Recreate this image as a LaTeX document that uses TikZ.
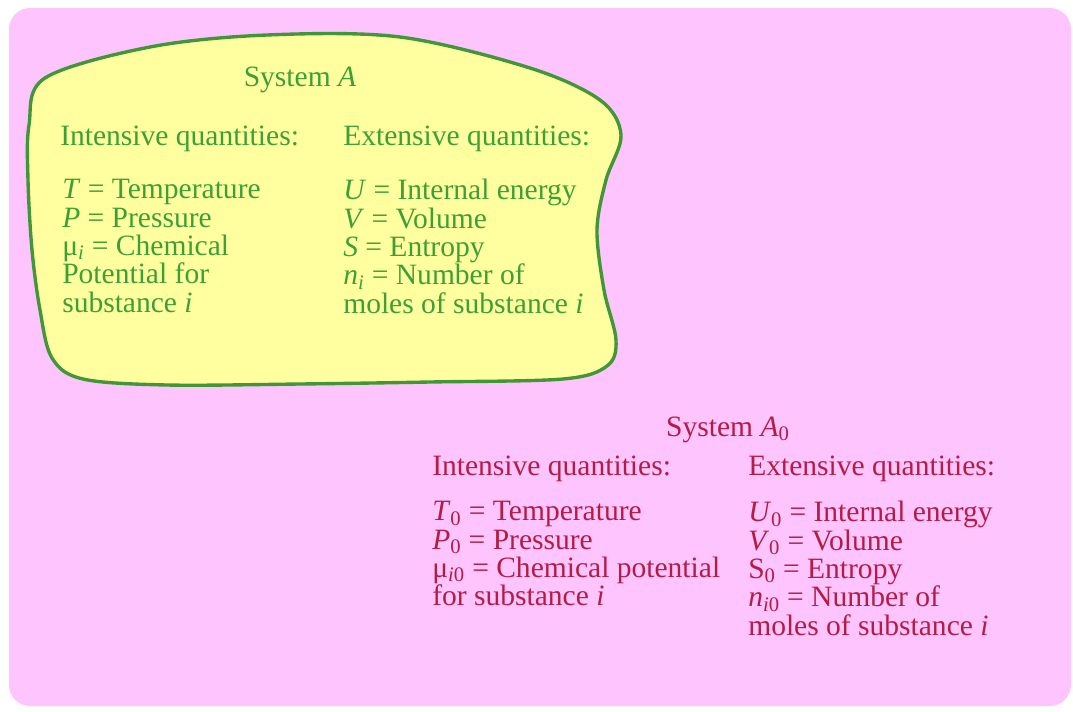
\documentclass[tikz,border=0pt]{standalone}
\usepackage{fontspec}
\setmainfont{Liberation Serif}
\usetikzlibrary{positioning}
\definecolor{bgpink}{RGB}{253,196,253}
\definecolor{blobfill}{RGB}{255,255,160}
\definecolor{blobedge}{RGB}{66,150,58}
\definecolor{txtgreen}{RGB}{62,160,52}
\definecolor{txtred}{RGB}{180,28,70}
\tikzset{
  greentxt/.style={text=txtgreen, inner sep=0pt, align=left,
    font=\fontsize{21}{20.2}\selectfont},
  redtxt/.style={text=txtred, inner sep=0pt, align=left,
    font=\fontsize{21}{20.2}\selectfont}
}

\begin{document}
\begin{tikzpicture}[x=0.025cm,y=-0.025cm]
  \useasboundingbox (0,0) rectangle (1073,711);
  % background panel
  \fill[bgpink, rounded corners=15] (9,8) rectangle (1071,706);
  % system A outline
  \draw[blobedge, fill=blobfill, line width=2.4pt]
    plot[smooth cycle, tension=0.55] coordinates {
      (45,78) (150,47) (267,35) (400,37) (530,68) (600,100) (621,135)
      (606,180) (597,230) (604,290) (616,340) (607,366) (563,379)
      (430,382) (300,384) (167,385) (83,379) (52,358) (40,310)
      (32,250) (28,180) (29,125)};
  % system A text
  \node[greentxt, anchor=base] (sysA) at (300,86) {System \textit{A}};
  \node[greentxt, anchor=base west] (intA) at (60,145) {Intensive quantities:};
  \node[greentxt, anchor=base west] (extA) at (343,145) {Extensive quantities:};
  \node[greentxt, anchor=north west] (intlistA) at (62,179)
    {\textit{T} = Temperature\\
     \textit{P} = Pressure\\
     μ\textsubscript{\textit{i}} = Chemical\\
     Potential for\\
     substance \textit{i}};
  \node[greentxt, anchor=north west] (extlistA) at (343,179)
    {\textit{U} = Internal energy\\
     \textit{V} = Volume\\
     \textit{S} = Entropy\\
     \textit{n}\textsubscript{\textit{i}} = Number of\\
     moles of substance \textit{i}};
  % system A0 text
  \node[redtxt, anchor=base] (sysB) at (728,436) {System \textit{A}\textsubscript{0}};
  \node[redtxt, anchor=base west] (intB) at (432,475) {Intensive quantities:};
  \node[redtxt, anchor=base west] (extB) at (748,475) {Extensive quantities:};
  \node[redtxt, anchor=north west] (intlistB) at (432,501)
    {\textit{T}\textsubscript{0} = Temperature\\
     \textit{P}\textsubscript{0} = Pressure\\
     μ\textsubscript{\textit{i}0} = Chemical potential\\
     for substance \textit{i}};
  \node[redtxt, anchor=north west] (extlistB) at (748,501)
    {\textit{U}\textsubscript{0} = Internal energy\\
     \textit{V}\textsubscript{0} = Volume\\
     S\textsubscript{0} = Entropy\\
     \textit{n}\textsubscript{\textit{i}0} = Number of\\
     moles of substance \textit{i}};
\end{tikzpicture}
\end{document}
